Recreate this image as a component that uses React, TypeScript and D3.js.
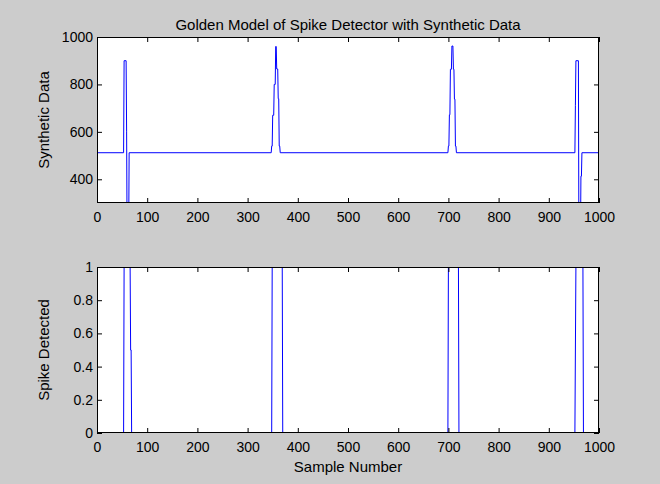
import React, { useEffect, useRef } from 'react';
import * as d3 from 'd3';

// Synthetic data: breakpoints (sample number, value), linear between them
const synthSample = [1, 53, 54, 58, 59, 60, 63, 64,
  347, 348, 349, 350, 352, 353, 355, 356, 357, 358, 360, 361, 362, 363, 364, 365,
  699, 700, 701, 702, 703, 704, 706, 707, 709, 710, 711, 712, 713, 714, 715, 716,
  952, 953, 954, 959, 960, 963, 964, 965, 966, 1000];
const synthValue = [512, 512, 900, 900, 600, 124, 124, 512,
  512, 540, 540, 670, 670, 800, 800, 960, 960, 865, 865, 740, 740, 540, 540, 512,
  512, 540, 540, 672, 672, 864, 864, 962, 962, 864, 864, 738, 738, 540, 540, 512,
  512, 710, 900, 900, 124, 124, 413, 413, 512, 512];

// Spike detector output
const detectSample = [1, 53, 54, 66, 67, 68, 69,
  348, 349, 369, 370,
  699, 700, 720, 721,
  952, 953, 954, 968, 969, 1000];
const detectValue = [0, 0, 1, 1, 0.5, 0.5, 0,
  0, 1, 1, 0,
  0, 1, 1, 0,
  0, 0.5, 1, 1, 0, 0];

const xTicks = [0, 100, 200, 300, 400, 500, 600, 700, 800, 900, 1000];
const topYTicks = [400, 600, 800, 1000];
const botYTicks = [0, 0.2, 0.4, 0.6, 0.8, 1];

const titleText = 'Golden Model of Spike Detector with Synthetic Data';
const topYLabel = 'Synthetic Data';
const botYLabel = 'Spike Detected';
const xLabel = 'Sample Number';

const W = 660, H = 484;
const L = 97, R = 599;
const T1 = 37, B1 = 203;
const T2 = 267, B2 = 433;
const FONT = "'Liberation Sans', Arial, Helvetica, sans-serif";

export default function App() {
  const ref = useRef<SVGSVGElement>(null);

  useEffect(() => {
    const svg = d3.select(ref.current);
    svg.selectAll('*').remove();

    svg.append('rect').attr('width', W).attr('height', H).attr('fill', '#cccccc');

    const x = d3.scaleLinear().domain([0, 1000]).range([L, R]);
    const yTop = d3.scaleLinear().domain([300, 1000]).range([B1, T1]);
    const yBot = d3.scaleLinear().domain([0, 1]).range([B2, T2]);

    const panels = [
      { y: yTop, top: T1, bot: B1, ticks: topYTicks, xs: synthSample, vs: synthValue, label: topYLabel, id: 'c1' },
      { y: yBot, top: T2, bot: B2, ticks: botYTicks, xs: detectSample, vs: detectValue, label: botYLabel, id: 'c2' },
    ];

    panels.forEach((p) => {
      const g = svg.append('g');
      g.append('rect')
        .attr('x', L).attr('y', p.top)
        .attr('width', R - L).attr('height', p.bot - p.top)
        .attr('fill', '#ffffff');

      svg.append('clipPath').attr('id', p.id)
        .append('rect').attr('x', L).attr('y', p.top)
        .attr('width', R - L).attr('height', p.bot - p.top);

      const pts = p.xs.map((s, i) => [s, p.vs[i]] as [number, number]);
      const line = d3.line<[number, number]>().x((d) => x(d[0])).y((d) => p.y(d[1]));
      g.append('path')
        .attr('d', line(pts) as string)
        .attr('fill', 'none')
        .attr('stroke', '#0000ff')
        .attr('stroke-width', 1)
        .attr('clip-path', `url(#${p.id})`);

      const axB = d3.axisBottom(x).tickValues(xTicks).tickSizeInner(-5).tickSizeOuter(0).tickPadding(9).tickFormat((d) => String(d));
      const axT = d3.axisTop(x).tickValues(xTicks).tickSizeInner(-5).tickSizeOuter(0).tickFormat(() => '');
      const axLf = d3.axisLeft(p.y).tickValues(p.ticks).tickSizeInner(-5).tickSizeOuter(0).tickPadding(4).tickFormat((d) => String(d));
      const axRt = d3.axisRight(p.y).tickValues(p.ticks).tickSizeInner(-5).tickSizeOuter(0).tickFormat(() => '');

      const gb = g.append('g').attr('transform', `translate(0,${p.bot})`).call(axB);
      const gt = g.append('g').attr('transform', `translate(0,${p.top})`).call(axT);
      const gl = g.append('g').attr('transform', `translate(${L},0)`).call(axLf);
      const gr = g.append('g').attr('transform', `translate(${R},0)`).call(axRt);
      [gb, gt, gl, gr].forEach((a) => {
        a.select('.domain').remove();
        a.selectAll('line').attr('stroke', '#000');
        a.selectAll('text').attr('fill', '#000').style('font-family', FONT).style('font-size', '14px');
      });

      g.append('rect')
        .attr('x', L + 0.5).attr('y', p.top + 0.5)
        .attr('width', R - L - 1).attr('height', p.bot - p.top - 1)
        .attr('fill', 'none').attr('stroke', '#000').attr('stroke-width', 1);

      g.append('text')
        .attr('transform', `translate(49,${(p.top + p.bot) / 2}) rotate(-90)`)
        .attr('text-anchor', 'middle')
        .style('font-family', FONT).style('font-size', '15px')
        .attr('fill', '#000')
        .text(p.label);
    });

    svg.append('text')
      .attr('x', (L + R) / 2).attr('y', 30)
      .attr('text-anchor', 'middle')
      .style('font-family', FONT).style('font-size', '15px')
      .attr('fill', '#000')
      .text(titleText);

    svg.append('text')
      .attr('x', (L + R) / 2).attr('y', 472)
      .attr('text-anchor', 'middle')
      .style('font-family', FONT).style('font-size', '15px')
      .attr('fill', '#000')
      .text(xLabel);
  }, []);

  return (
    <svg ref={ref} width={W} height={H} style={{ position: 'absolute', left: 0, top: 0, display: 'block' }} />
  );
}
